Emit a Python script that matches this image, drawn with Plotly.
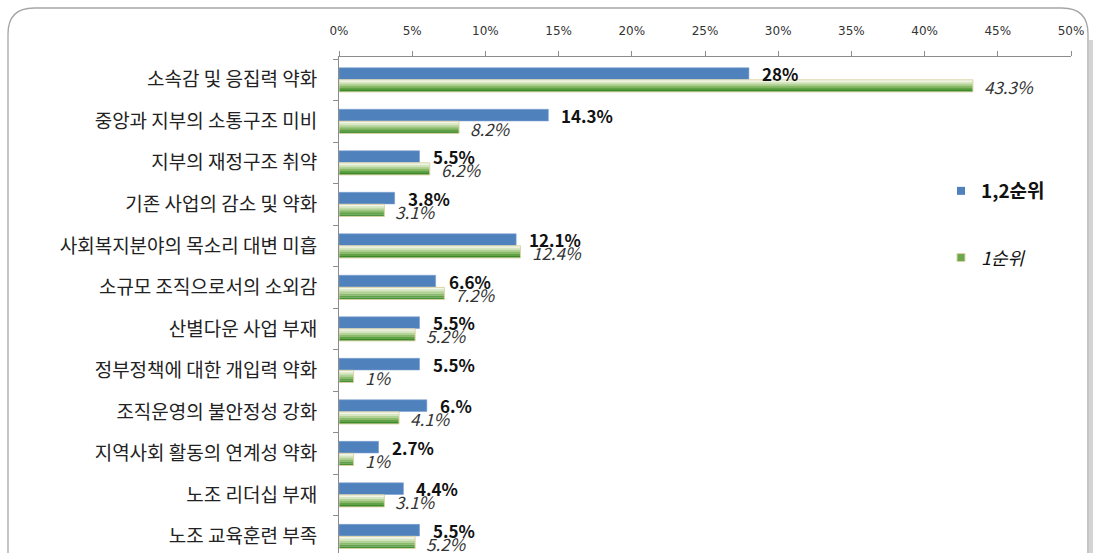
import plotly.graph_objects as go

categories = [
    "소속감 및 응집력 약화",
    "중앙과 지부의 소통구조 미비",
    "지부의 재정구조 취약",
    "기존 사업의 감소 및 약화",
    "사회복지분야의 목소리 대변 미흡",
    "소규모 조직으로서의 소외감",
    "산별다운 사업 부재",
    "정부정책에 대한 개입력 약화",
    "조직운영의 불안정성 강화",
    "지역사회 활동의 연계성 약화",
    "노조 리더십 부재",
    "노조 교육훈련 부족",
]
rank12 = [28, 14.3, 5.5, 3.8, 12.1, 6.6, 5.5, 5.5, 6, 2.7, 4.4, 5.5]
rank12_labels = ["28%", "14.3%", "5.5%", "3.8%", "12.1%", "6.6%", "5.5%", "5.5%", "6.%", "2.7%", "4.4%", "5.5%"]
rank1 = [43.3, 8.2, 6.2, 3.1, 12.4, 7.2, 5.2, 1, 4.1, 1, 3.1, 5.2]
rank1_labels = ["43.3%", "8.2%", "6.2%", "3.1%", "12.4%", "7.2%", "5.2%", "1%", "4.1%", "1%", "3.1%", "5.2%"]
series_names = ["1,2순위", "1순위"]
x_ticks = [0, 5, 10, 15, 20, 25, 30, 35, 40, 45, 50]
x_ticktext = [f"{v}%" for v in x_ticks]

W, H = 1100, 553
L, R, T, B = 339, 29, 57, 0
PW, PH = W - L - R, H - T - B

KR = "Noto Sans CJK KR"
BLUE = "#4f81bd"
GREEN_STRIPS = ["#f1f6e9", "#d5e6c1", "#b2d297", "#8bbb6a", "#61a246", "#3b8a2c"]

fig = go.Figure()

# blue bars
fig.add_trace(go.Bar(
    y=categories, x=rank12, orientation="h",
    offset=-0.29, width=0.28,
    marker=dict(color=BLUE, line=dict(color="#7a9fd0", width=0.6)),
    showlegend=False, hoverinfo="x+y",
))

# green bars drawn as horizontal strips to imitate a vertical gradient
sw = 0.29 / len(GREEN_STRIPS)
for i, c in enumerate(GREEN_STRIPS):
    fig.add_trace(go.Bar(
        y=categories, x=rank1, orientation="h",
        offset=i * sw, width=sw * 1.02,
        marker=dict(color=c, line=dict(width=0)),
        showlegend=False, hoverinfo="skip",
    ))
# green outline
fig.add_trace(go.Bar(
    y=categories, x=rank1, orientation="h",
    offset=0.0, width=0.29,
    marker=dict(color="rgba(0,0,0,0)", line=dict(color="#dcd3a6", width=1)),
    showlegend=False, hoverinfo="x+y",
))

# value labels placed at bar ends through the axes
for cat, v, lab in zip(categories, rank12, rank12_labels):
    fig.add_annotation(x=v, y=cat, text=lab, showarrow=False, xanchor="left",
                       xshift=11, yshift=6,
                       font=dict(family=KR, size=17, color="#111111", weight="bold"))
for cat, v, lab in zip(categories, rank1, rank1_labels):
    fig.add_annotation(x=v, y=cat, text="<i>" + lab + "</i>", showarrow=False, xanchor="left",
                       xshift=9, yshift=-7,
                       font=dict(family=KR, size=17, color="#333333", style="italic"))

# legend entries
fig.add_trace(go.Scatter(
    x=[None], y=[None], mode="markers", name="<b>" + series_names[0] + "</b>",
    marker=dict(symbol="square", size=8, color=BLUE), legendgroup="a",
))
fig.add_trace(go.Scatter(
    x=[None], y=[None], mode="markers",
    name='<span style="font-size:18px"><i>' + series_names[1] + "</i></span>",
    marker=dict(symbol="square", size=8, color="#6aa84f", line=dict(color="#dcd3a6", width=1)),
    legendgroup="b",
))

def px2x(px):
    return (px - L) / PW

def py2y(py):
    return (H - py) / PH

x0, x1 = px2x(8), px2x(1088)
y0, y1 = py2y(8), py2y(620)
rx, ry = 26 / PW, 26 / PH
border = (f"M {x0+rx},{y0} L {x1-rx},{y0} Q {x1},{y0} {x1},{y0-ry} L {x1},{y1} "
          f"L {x0},{y1} L {x0},{y0-ry} Q {x0},{y0} {x0+rx},{y0} Z")
shadow_x = px2x(1091)
fig.add_shape(type="line", xref="paper", yref="paper", x0=shadow_x, x1=shadow_x,
              y0=py2y(40), y1=py2y(620), line=dict(color="#d4d4d4", width=4), layer="below")
fig.add_shape(type="path", xref="paper", yref="paper", path=border,
              line=dict(color="#a6a6a6", width=1.3), fillcolor="rgba(0,0,0,0)", layer="below")

fig.update_layout(
    width=W, height=H,
    margin=dict(l=L, r=R, t=T, b=B, autoexpand=False),
    paper_bgcolor="white", plot_bgcolor="white",
    barmode="overlay",
    showlegend=True,
    legend=dict(x=px2x(941), y=py2y(172), xanchor="left", yanchor="top",
                font=dict(family=KR, size=19, color="#111111"),
                tracegroupgap=39, itemwidth=30, bgcolor="rgba(0,0,0,0)"),
    xaxis=dict(
        side="top", range=[0, 50], tickvals=x_ticks, ticktext=x_ticktext,
        showgrid=False, zeroline=False, showline=True, linecolor="#8c8c8c", linewidth=1,
        ticks="outside", ticklen=5, tickcolor="#8c8c8c",
        tickfont=dict(family="DejaVu Sans", size=12, color="#333333"),
        ticklabelstandoff=11,
    ),
    yaxis=dict(
        type="category", range=[11.4, -0.55], showgrid=False, zeroline=False,
        showline=True, linecolor="#8c8c8c", linewidth=1,
        ticks="outside", ticklen=5, tickcolor="#8c8c8c", tickson="boundaries",
        tickfont=dict(family=KR, size=19, color="#222222"),
        ticklabelstandoff=17,
    ),
    font=dict(family=KR),
)

fig.write_html("out.html", config={"displayModeBar": False})

# remove the default page margin so the figure sits at the window's top-left corner
with open("out.html", encoding="utf-8") as f:
    html = f.read()
html = html.replace("<head>", "<head><style>html,body{margin:0;padding:0;overflow:hidden;}</style>", 1)
with open("out.html", "w", encoding="utf-8") as f:
    f.write(html)
